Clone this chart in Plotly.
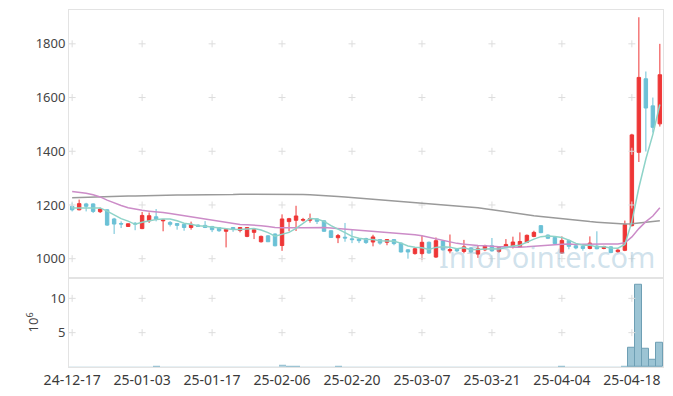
import plotly.graph_objects as go
from itertools import product

dates = ["24-12-17","24-12-18","24-12-19","24-12-20","24-12-23","24-12-24","24-12-26","24-12-27","24-12-30",
         "25-01-02","25-01-03","25-01-06","25-01-07","25-01-08","25-01-09","25-01-10","25-01-13","25-01-14",
         "25-01-15","25-01-16","25-01-17","25-01-20","25-01-21","25-01-22","25-01-23","25-01-24","25-01-31",
         "25-02-03","25-02-04","25-02-05","25-02-06","25-02-07","25-02-10","25-02-11","25-02-12","25-02-13",
         "25-02-14","25-02-17","25-02-18","25-02-19","25-02-20","25-02-21","25-02-24","25-02-25","25-02-26",
         "25-02-27","25-02-28","25-03-04","25-03-05","25-03-06","25-03-07","25-03-10","25-03-11","25-03-12",
         "25-03-13","25-03-14","25-03-17","25-03-18","25-03-19","25-03-20","25-03-21","25-03-24","25-03-25",
         "25-03-26","25-03-27","25-03-28","25-03-31","25-04-01","25-04-02","25-04-03","25-04-04","25-04-07",
         "25-04-08","25-04-09","25-04-10","25-04-11","25-04-14","25-04-15","25-04-16","25-04-17","25-04-18",
         "25-04-21","25-04-22","25-04-23","25-04-24"]

open_ = [1195,1182,1204,1204,1175,1182,1148,1131,1120,1132,1112,1141,1156,1141,1135,1131,1128,1116,1125,1124,
         1120,1116,1102,1116,1105,1083,1098,1063,1085,1092,1049,1138,1143,1143,1143,1148,1141,1104,1078,1080,
         1074,1073,1075,1062,1071,1061,1071,1058,1033,1019,1019,1061,1006,1066,1029,1035,1027,1040,1017,1033,
         1048,1027,1044,1046,1044,1061,1083,1123,1088,1079,1021,1068,1048,1046,1038,1047,1038,1044,1026,1031,
         1123,1396,1670,1569,1502]
high = [1209,1220,1208,1206,1190,1184,1152,1139,1131,1136,1174,1172,1185,1146,1140,1133,1130,1138,1128,1140,
        1122,1118,1112,1118,1118,1118,1110,1086,1088,1094,1165,1152,1197,1152,1168,1150,1143,1106,1092,1133,
        1107,1076,1078,1089,1073,1072,1073,1060,1035,1040,1086,1064,1079,1068,1090,1038,1070,1043,1051,1052,
        1077,1046,1073,1082,1098,1090,1104,1125,1090,1081,1083,1071,1052,1049,1083,1102,1048,1046,1035,1142,
        1465,1899,1697,1600,1800]
low = [1176,1180,1176,1170,1170,1122,1092,1114,1118,1106,1110,1133,1139,1102,1120,1108,1104,1108,1118,1114,
       1099,1100,1042,1100,1098,1080,1073,1060,1062,1046,1029,1102,1103,1138,1134,1129,1100,1077,1058,1063,
       1058,1058,1055,1046,1052,1050,1050,1023,1000,1015,996,1018,1003,1030,1020,1025,1020,1020,1003,1028,
       1026,1022,1040,1038,1040,1058,1080,1095,1073,1053,1018,1035,1035,1030,1035,1035,1035,1020,1022,1028,
       1120,1360,1399,1470,1492]
close = [1182,1205,1195,1176,1185,1125,1129,1129,1130,1129,1161,1160,1148,1144,1128,1124,1116,1128,1120,1116,
         1108,1104,1109,1110,1116,1116,1108,1083,1063,1048,1148,1149,1159,1146,1149,1139,1102,1079,1086,1077,
         1071,1067,1060,1081,1058,1071,1056,1025,1025,1037,1061,1021,1067,1033,1034,1029,1044,1025,1037,1048,
         1029,1042,1053,1062,1064,1087,1098,1097,1076,1056,1068,1046,1040,1038,1058,1037,1045,1023,1032,1127,
         1461,1675,1561,1489,1685]

ma5 = [1189,1189,1189,1188,1189,1177,1162,1149,1140,1128,1136,1142,1146,1148,1148,1141,1132,1128,1123,1121,
       1118,1115,1111,1109,1109,1111,1112,1107,1097,1084,1090,1098,1113,1130,1150,1148,1139,1123,1111,1097,
       1083,1076,1072,1071,1067,1067,1065,1058,1047,1043,1041,1034,1042,1044,1043,1037,1041,1033,1034,1037,
       1037,1036,1042,1047,1050,1062,1073,1082,1084,1083,1079,1069,1057,1050,1050,1044,1044,1040,1039,1053,
       1138,1264,1371,1463,1574]
ma20 = [1250,1247,1244,1238,1230,1218,1207,1198,1190,1184,1180,1177,1175,1172,1168,1164,1160,1155,1150,1147,
        1143,1138,1134,1130,1127,1126,1125,1123,1120,1116,1115,1114,1115,1115,1116,1117,1116,1114,1112,1110,
        1108,1106,1104,1102,1100,1097,1095,1092,1090,1089,1085,1079,1074,1068,1063,1057,1054,1051,1049,1048,
        1045,1044,1044,1043,1043,1044,1046,1050,1052,1053,1054,1055,1053,1054,1055,1055,1055,1055,1055,1059,
        1081,1112,1138,1159,1190]
ma120 = [1227,1228,1229,1229,1230,1231,1231,1232,1233,1233,1234,1235,1235,1236,1236,1237,1237,1237,1238,1238,
         1238,1239,1239,1239,1240,1240,1240,1240,1241,1241,1241,1240,1240,1239,1238,1237,1236,1234,1232,1230,
         1228,1226,1224,1222,1220,1218,1216,1214,1212,1210,1208,1206,1204,1202,1200,1198,1196,1193,1190,1186,
         1182,1179,1175,1171,1168,1164,1160,1157,1154,1151,1148,1145,1142,1140,1138,1136,1134,1132,1130,1129,
         1130,1133,1136,1138,1141]

volume_m = [0.03,0.02,0.02,0.03,0.02,0.03,0.02,0.02,0.02,0.02,0.03,0.03,0.15,0.03,0.02,0.02,0.02,0.02,0.02,0.02,
            0.02,0.02,0.03,0.02,0.02,0.02,0.02,0.02,0.02,0.03,0.30,0.05,0.04,0.03,0.03,0.02,0.03,0.03,0.15,0.03,
            0.02,0.02,0.02,0.02,0.02,0.02,0.02,0.03,0.02,0.02,0.03,0.02,0.03,0.02,0.02,0.02,0.02,0.02,0.02,0.02,
            0.02,0.02,0.02,0.02,0.03,0.03,0.03,0.03,0.02,0.02,0.15,0.03,0.02,0.02,0.02,0.03,0.02,0.02,0.02,0.15,
            2.8,12.0,2.7,1.0,3.6]

tick_dates = dates[::10]
price_ticks = [1000, 1200, 1400, 1600, 1800]
vol_ticks = [5, 10]

RED = "#EE3636"
BLUE = "#6BC1D6"
FONT = "Noto Sans"

fig = go.Figure()

fig.add_trace(go.Candlestick(
    x=dates, open=open_, high=high, low=low, close=close,
    increasing=dict(line=dict(color=RED, width=1), fillcolor=RED),
    decreasing=dict(line=dict(color=BLUE, width=1), fillcolor=BLUE),
    whiskerwidth=0, showlegend=False, xaxis="x", yaxis="y"))

# outline only on bars tall enough to show one
vol_line_w = [1 if v >= 0.5 else 0 for v in volume_m]
fig.add_trace(go.Bar(x=dates, y=volume_m,
                     marker=dict(color="#9CC4D4", line=dict(color="#6E9FB4", width=vol_line_w)),
                     showlegend=False, xaxis="x2", yaxis="y2"))

# grid crosses at tick intersections
gp = list(product(tick_dates, price_ticks))
fig.add_trace(go.Scatter(x=[a for a, b in gp], y=[b for a, b in gp], mode="markers",
                         marker=dict(symbol="cross-thin", size=5, line=dict(color="#dddddd", width=1)),
                         hoverinfo="skip", showlegend=False, xaxis="x", yaxis="y"))
gv = list(product(tick_dates, vol_ticks))
fig.add_trace(go.Scatter(x=[a for a, b in gv], y=[b for a, b in gv], mode="markers",
                         marker=dict(symbol="cross-thin", size=5, line=dict(color="#dddddd", width=1)),
                         hoverinfo="skip", showlegend=False, xaxis="x2", yaxis="y2"))

fig.add_trace(go.Scatter(x=dates, y=ma120, mode="lines", line=dict(color="#9a9a9a", width=1.5),
                         showlegend=False, xaxis="x", yaxis="y"))
fig.add_trace(go.Scatter(x=dates, y=ma20, mode="lines", line=dict(color="#CC8CC8", width=1.5),
                         showlegend=False, xaxis="x", yaxis="y"))
fig.add_trace(go.Scatter(x=dates, y=ma5, mode="lines", line=dict(color="#8ED3C8", width=1.5),
                         showlegend=False, xaxis="x", yaxis="y"))

axcommon = dict(showline=True, mirror=True, linecolor="#e3e3e3", linewidth=1, showgrid=False,
                zeroline=False, ticks="")
xr = [-0.45, len(dates) - 1 + 0.45]
xcommon = dict(type="category", categoryorder="array", categoryarray=dates, range=xr)

fig.update_layout(
    width=673, height=396,
    margin=dict(l=69, r=10, t=10, b=29),
    paper_bgcolor="white", plot_bgcolor="white",
    font=dict(family=FONT, size=13, color="#444"),
    bargap=0,
    xaxis=dict(**axcommon, **xcommon, rangeslider=dict(visible=False),
               showticklabels=False, anchor="y", domain=[0, 1]),
    yaxis=dict(**axcommon, domain=[0.25, 1], range=[929, 1926], tickvals=price_ticks,
               tickfont=dict(size=13, color="#444"), anchor="x", automargin=False),
    xaxis2=dict(**axcommon, **xcommon, anchor="y2", tickangle=0, automargin=False,
                tickvals=tick_dates, ticktext=tick_dates, tickfont=dict(size=14, color="#3a3a3a")),
    yaxis2=dict(**axcommon, domain=[0, 0.25], range=[0, 13], tickvals=vol_ticks, automargin=False,
                tickfont=dict(size=13, color="#444"), anchor="x2",
                title=dict(text="10<sup>6</sup>", font=dict(size=13, color="#444"), standoff=8)),
    annotations=[dict(text="InfoPointer.com", xref="paper", yref="paper", x=0.805, y=0.31,
                      xanchor="center", yanchor="middle", showarrow=False,
                      font=dict(family=FONT, size=29, color="rgba(150,190,212,0.45)"))],
)

fig.write_html("out.html", config={"displayModeBar": False},
               post_script="document.body.style.margin='0';")
